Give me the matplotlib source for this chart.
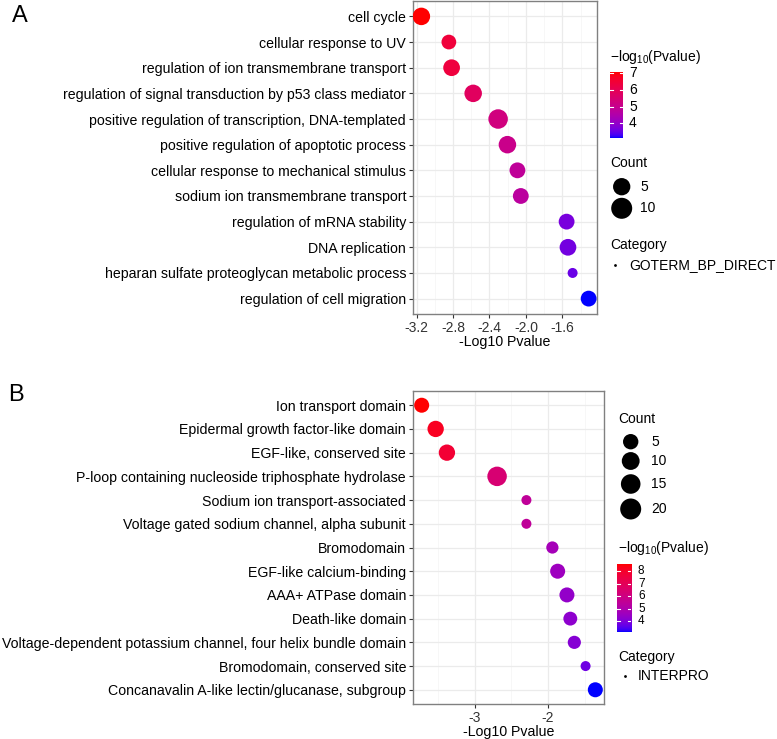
import matplotlib
matplotlib.use("Agg")
import matplotlib.pyplot as plt
from matplotlib.colors import ListedColormap
from matplotlib.ticker import FixedLocator
import numpy as np

plt.rcParams['font.family'] = ['Liberation Sans', 'DejaVu Sans']
plt.rcParams['mathtext.fontset'] = 'custom'
plt.rcParams['mathtext.rm'] = 'Liberation Sans'
plt.rcParams['mathtext.it'] = 'Liberation Sans'

## data, panel A (GO BP)
terms_a = ["cell cycle", "cellular response to UV", "regulation of ion transmembrane transport",
           "regulation of signal transduction by p53 class mediator",
           "positive regulation of transcription, DNA-templated",
           "positive regulation of apoptotic process", "cellular response to mechanical stimulus",
           "sodium ion transmembrane transport", "regulation of mRNA stability", "DNA replication",
           "heparan sulfate proteoglycan metabolic process", "regulation of cell migration"]
x_a = [-3.148, -2.846, -2.816, -2.579, -2.305, -2.203, -2.093, -2.056, -1.553, -1.538, -1.487, -1.311]
logp_a = [7.10, 6.45, 6.40, 5.85, 5.30, 5.10, 4.85, 4.75, 3.70, 3.65, 3.55, 3.14]
count_a = [7, 4, 6, 7, 10, 7, 5, 5, 5, 6, 2, 5]
ticks_a = [-3.2, -2.8, -2.4, -2.0, -1.6]
minor_a = [-3.0, -2.6, -2.2, -1.8, -1.4]
cbar_ticks_a = [4, 5, 6, 7]
size_breaks_a = [5, 10]

## data, panel B (INTERPRO)
terms_b = ["Ion transport domain", "Epidermal growth factor-like domain", "EGF-like, conserved site",
           "P-loop containing nucleoside triphosphate hydrolase", "Sodium ion transport-associated",
           "Voltage gated sodium channel, alpha subunit", "Bromodomain", "EGF-like calcium-binding",
           "AAA+ ATPase domain", "Death-like domain",
           "Voltage-dependent potassium channel, four helix bundle domain",
           "Bromodomain, conserved site", "Concanavalin A-like lectin/glucanase, subgroup"]
x_b = [-3.727, -3.536, -3.382, -2.696, -2.295, -2.295, -1.940, -1.868, -1.741, -1.695, -1.640, -1.486, -1.353]
logp_b = [8.60, 8.20, 7.85, 6.40, 5.50, 5.50, 4.75, 4.60, 4.35, 4.25, 4.10, 3.75, 3.13]
count_b = [7, 10, 10, 20, 2, 2, 3, 7, 7, 5, 4, 2, 7]
ticks_b = [-3, -2]
minor_b = [-3.5, -2.5, -1.5]
cbar_ticks_b = [4, 5, 6, 7, 8]
size_breaks_b = [5, 10, 15, 20]

W, H = 777, 739


## blue -> red gradient interpolated in CIELAB (like ggplot)
M = np.array([[0.4124, 0.3576, 0.1805], [0.2126, 0.7152, 0.0722], [0.0193, 0.1192, 0.9505]])
WP = np.array([0.95047, 1.0, 1.08883])


def rgb2lab(rgb):
    c = np.array(rgb, float)
    c = np.where(c <= 0.04045, c / 12.92, ((c + 0.055) / 1.055) ** 2.4)
    xyz = M @ c / WP
    f = np.where(xyz > (6 / 29) ** 3, np.cbrt(xyz), xyz / (3 * (6 / 29) ** 2) + 4 / 29)
    return np.array([116 * f[1] - 16, 500 * (f[0] - f[1]), 200 * (f[1] - f[2])])


def lab2rgb(lab):
    fy = (lab[0] + 16) / 116
    f = np.array([fy + lab[1] / 500, fy, fy - lab[2] / 200])
    xyz = np.where(f > 6 / 29, f ** 3, 3 * (6 / 29) ** 2 * (f - 4 / 29)) * WP
    c = np.linalg.solve(M, xyz)
    c = np.where(c <= 0.0031308, 12.92 * c, 1.055 * np.clip(c, 0, None) ** (1 / 2.4) - 0.055)
    return np.clip(c, 0, 1)


lo, hi = rgb2lab([0, 0, 1]), rgb2lab([1, 0, 0])
cmap = ListedColormap([lab2rgb(lo + (hi - lo) * k) for k in np.linspace(0, 1, 256)])


def dot_px(c, cmin, cmax):
    return 10 + 9.5 * np.sqrt((np.array(c, float) - cmin) / (cmax - cmin))


fig = plt.figure(figsize=(W / 100, H / 100), dpi=100)


def px_box(l, t, r, b):
    return [l / W, 1 - b / H, (r - l) / W, (b - t) / H]


def panel(box, terms, x, logp, count, ticks, minor, fmt):
    ax = fig.add_axes(px_box(*box))
    n = len(terms)
    y = np.arange(n)
    cmin, cmax = min(count), max(count)
    d = dot_px(count, cmin, cmax)
    ax.scatter(x, y, s=(d * 0.72) ** 2, c=logp, cmap=cmap, vmin=min(logp), vmax=max(logp),
               linewidths=0, zorder=3)
    rng = max(x) - min(x)
    ax.set_xlim(min(x) - 0.05 * rng, max(x) + 0.05 * rng)
    ax.set_ylim(n - 0.4, -0.6)
    ax.set_yticks(y)
    ax.set_yticklabels(terms, fontsize=10.2, color='black')
    ax.set_xticks(ticks)
    ax.set_xticklabels([fmt % v for v in ticks], fontsize=10, color='#333333')
    ax.xaxis.set_minor_locator(FixedLocator(minor))
    ax.tick_params(which='major', length=3, width=0.8, color='#333333', pad=2)
    ax.tick_params(which='minor', length=0)
    ax.grid(which='major', color='#EBEBEB', lw=0.9, zorder=0)
    ax.grid(which='minor', axis='x', color='#F4F4F4', lw=0.5, zorder=0)
    ax.set_axisbelow(True)
    for s in ax.spines.values():
        s.set_color('#808080')
        s.set_linewidth(1)
    ax.set_xlabel('-Log10 Pvalue', fontsize=10.2, labelpad=0)
    return ax, cmin, cmax


ax_a, cmin_a, cmax_a = panel((413, 1, 597, 314), terms_a, x_a, logp_a, count_a, ticks_a, minor_a, '%.1f')
ax_b, cmin_b, cmax_b = panel((413, 391, 604, 704), terms_b, x_b, logp_b, count_b, ticks_b, minor_b, '%d')

fig.text(12 / W, 1 - 16 / H, 'A', fontsize=17, va='center', ha='left')
fig.text(8 / W, 1 - 395 / H, 'B', fontsize=17, va='center', ha='left')

## overlay for legends in pixel coords
ov = fig.add_axes([0, 0, 1, 1])
ov.set_xlim(0, W)
ov.set_ylim(H, 0)
ov.axis('off')
ov.patch.set_alpha(0)

title_lp = r'$-$log$_{10}$(Pvalue)'
lfs = 10


def colorbar(l, top, r, bot, vmin, vmax, ticks, tx, fs):
    cax = fig.add_axes(px_box(l, top, r, bot))
    grad = np.linspace(vmax, vmin, 200).reshape(-1, 1)
    cax.imshow(grad, aspect='auto', cmap=cmap, vmin=vmin, vmax=vmax, extent=[0, 1, vmin, vmax])
    cax.set_xlim(0, 1)
    cax.set_ylim(vmin, vmax)
    for v in ticks:
        cax.plot([0, 0.2], [v, v], color='white', lw=0.8)
        cax.plot([0.8, 1], [v, v], color='white', lw=0.8)
        ov.text(tx, bot - (v - vmin) / (vmax - vmin) * (bot - top), str(v), fontsize=fs,
                va='center', ha='left')
    cax.axis('off')


def size_legend(x0, title_y, cx, rows, breaks, cmin, cmax, lx):
    ov.text(x0, title_y, 'Count', fontsize=lfs, va='center', ha='left')
    d = dot_px(breaks, cmin, cmax) + 1.5
    ov.scatter([cx] * len(breaks), rows, s=(d * 0.72) ** 2, color='black', linewidths=0)
    for cy, bk in zip(rows, breaks):
        ov.text(lx, cy, str(bk), fontsize=lfs, va='center', ha='left')


## legends panel A
ov.text(610, 57, title_lp, fontsize=lfs, va='center', ha='left')
colorbar(610, 71.7, 623, 137.7, min(logp_a), max(logp_a), cbar_ticks_a, 629, lfs)
size_legend(610, 163, 621.7, [186.7, 208.3], size_breaks_a, cmin_a, cmax_a, 640)
ov.text(610, 245, 'Category', fontsize=lfs, va='center', ha='left')
ov.scatter([615], [265], s=4, color='black', linewidths=0)
ov.text(629, 265, 'GOTERM_BP_DIRECT', fontsize=lfs, va='center', ha='left')

## legends panel B
size_legend(618, 419, 630.7, [441.7, 461, 484, 509], size_breaks_b, cmin_b, cmax_b, 651)
ov.text(618, 548, title_lp, fontsize=lfs, va='center', ha='left')
colorbar(617, 564, 631, 631.7, min(logp_b), max(logp_b), cbar_ticks_b, 638, 8.5)
ov.text(618, 657, 'Category', fontsize=lfs, va='center', ha='left')
ov.scatter([625], [676], s=4, color='black', linewidths=0)
ov.text(638, 676, 'INTERPRO', fontsize=lfs, va='center', ha='left')

fig.savefig('out.png', dpi=100)
